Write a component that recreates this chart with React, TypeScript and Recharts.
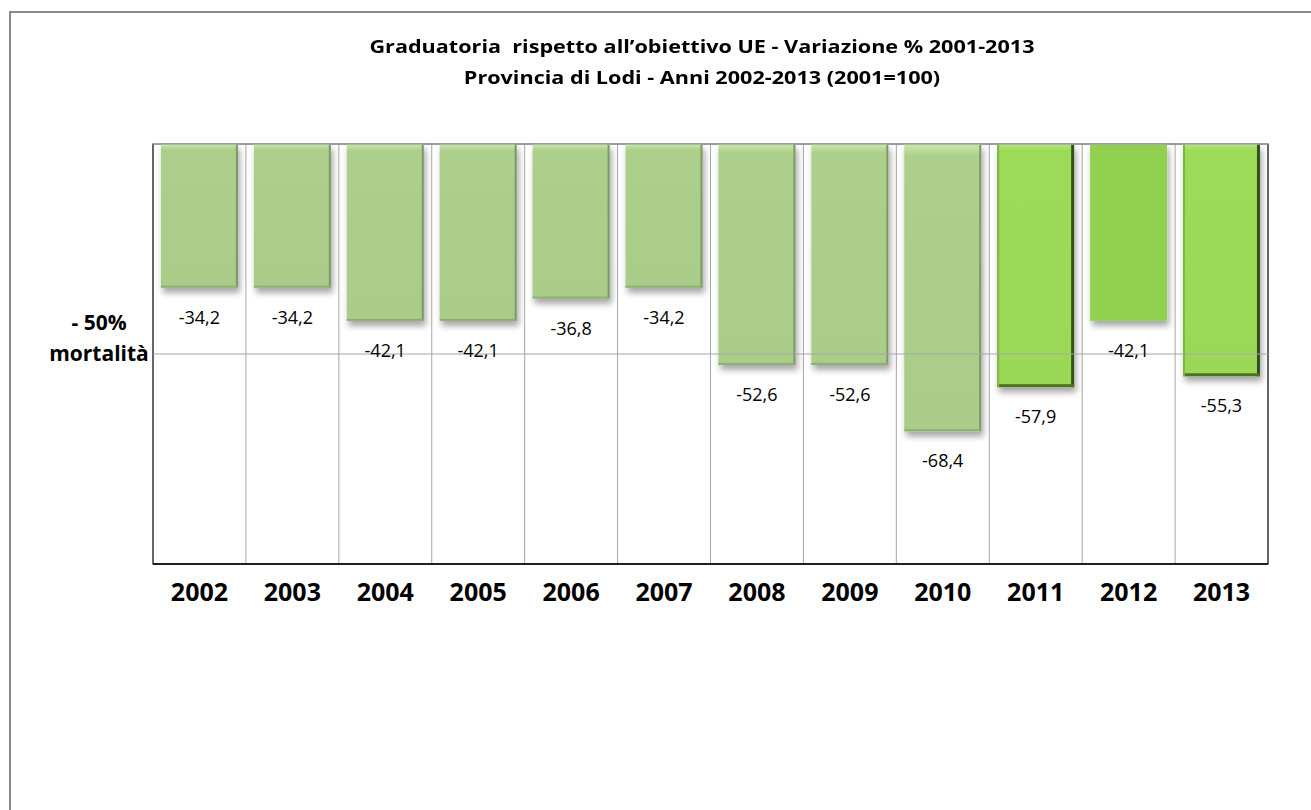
import { BarChart, Bar, XAxis, YAxis, CartesianGrid, ReferenceLine, ReferenceArea, LabelList } from 'recharts'

const years = ['2002', '2003', '2004', '2005', '2006', '2007', '2008', '2009', '2010', '2011', '2012', '2013']
const variazione = [-34.2, -34.2, -42.1, -42.1, -36.8, -34.2, -52.6, -52.6, -68.4, -57.9, -42.1, -55.3]
const titleLines = ['Graduatoria  rispetto all’obiettivo UE - Variazione % 2001-2013', 'Provincia di Lodi - Anni 2002-2013 (2001=100)']
const targetLine = -50
const targetLabel = ['- 50%', 'mortalità']

const data = years.map((year, i) => ({ year, value: variazione[i] }))

// bar look per year: default is the pale green with a soft top highlight
const BAR_LOOK: Record<string, 'pale' | 'outlined' | 'flat'> = {
  '2011': 'outlined',
  '2012': 'flat',
  '2013': 'outlined',
}

const FONT = '"Open Sans", sans-serif'

const W = 1311
const H = 810

const BarShape = (props: any) => {
  const { x, y, width, height, payload } = props
  const top = Math.min(y, y + height)
  const h = Math.abs(height)
  const look = BAR_LOOK[payload.year] || 'pale'

  if (look === 'flat') {
    return (
      <g filter="url(#barShadow)">
        <rect x={x} y={top} width={width} height={h} fill="#92d050" />
      </g>
    )
  }
  if (look === 'outlined') {
    return (
      <g filter="url(#barShadow)">
        <rect x={x} y={top} width={width} height={h} fill="url(#brightGrad)" />
        <rect x={x + width - 3} y={top} width={3} height={h} fill="#34501c" />
        <rect x={x} y={top + h - 3} width={width} height={3} fill="#4b7026" />
        <rect x={x} y={top} width={2} height={h} fill="#7fb548" />
      </g>
    )
  }
  return (
    <g filter="url(#barShadow)">
      <rect x={x} y={top} width={width} height={h} fill="url(#paleGrad)" />
      <rect x={x + width - 2} y={top} width={2} height={h} fill="#7d9868" />
      <rect x={x} y={top + h - 2} width={width} height={2} fill="#8fae76" />
    </g>
  )
}

const ValueLabel = (props: any) => {
  const { x, y, width, height, value } = props
  const bottom = Math.max(y, y + height)
  return (
    <text
      x={x + width / 2}
      y={bottom + 36}
      textAnchor="middle"
      fontFamily={FONT}
      fontSize={18}
      fill="#000"
    >
      {Number(value).toFixed(1).replace('.', ',')}
    </text>
  )
}

const YearTick = ({ x, y, payload }: any) => (
  <text x={x} y={y + 29} textAnchor="middle" fontFamily={FONT} fontWeight="bold" fontSize={25} fill="#000">
    {payload.value}
  </text>
)

const TargetLabel = ({ viewBox }: any) => {
  const y = viewBox.y
  return (
    <g>
      <text x={99} y={y - 24} textAnchor="middle" fontFamily={FONT} fontWeight="bold" fontSize={21} fill="#000">
        {targetLabel[0]}
      </text>
      <text x={99} y={y + 7} textAnchor="middle" fontFamily={FONT} fontWeight="bold" fontSize={21} fill="#000">
        {targetLabel[1]}
      </text>
    </g>
  )
}

export default function App() {
  const boundaries = ({ offset }: any) =>
    years.slice(1).map((_, i) => offset.left + ((i + 1) * offset.width) / years.length)

  return (
    <div style={{ position: 'absolute', left: 0, top: 0, width: W, height: H, background: '#fff', overflow: 'hidden' }}>
      <div
        style={{
          position: 'absolute',
          left: 9,
          top: 11,
          width: W + 20,
          height: H + 20,
          border: '2px solid #8a8a8a',
          boxSizing: 'border-box',
        }}
      />
      <div
        style={{
          position: 'absolute',
          left: 0,
          top: 31,
          width: 1404,
          textAlign: 'center',
          fontFamily: FONT,
          fontWeight: 'bold',
          fontSize: 18,
          lineHeight: '31px',
          color: '#000',
          whiteSpace: 'pre',
          transform: 'scaleX(1.2)',
          transformOrigin: '702px 0',
        }}
      >
        <div>{titleLines[0]}</div>
        <div>{titleLines[1]}</div>
      </div>
      <div style={{ position: 'absolute', left: 0, top: 0 }}>
        <BarChart
          width={W}
          height={H}
          data={data}
          margin={{ top: 144, right: 43, bottom: 206, left: 153 }}
          barCategoryGap="8.5%"
        >
          <defs>
            <linearGradient id="paleGrad" x1="0" y1="0" x2="0" y2="1" gradientUnits="objectBoundingBox">
              <stop offset="0" stopColor="#cbe8ac" />
              <stop offset="0.04" stopColor="#acd08b" />
              <stop offset="1" stopColor="#a9cd88" />
            </linearGradient>
            <linearGradient id="brightGrad" x1="0" y1="0" x2="0" y2="1">
              <stop offset="0" stopColor="#b4e67c" />
              <stop offset="0.03" stopColor="#9cda58" />
              <stop offset="1" stopColor="#9ad856" />
            </linearGradient>
            <filter id="barShadow" x="-20%" y="-10%" width="140%" height="130%">
              <feDropShadow dx="2" dy="5" stdDeviation="3" floodColor="#000" floodOpacity="0.35" />
            </filter>
          </defs>
          <CartesianGrid
            horizontal={false}
            vertical
            stroke="#a6a6a6"
            strokeWidth={1}
            verticalCoordinatesGenerator={boundaries}
          />
          <ReferenceArea y1={-100} y2={0} fill="none" stroke="#000" strokeWidth={1.2} ifOverflow="visible" />
          <ReferenceLine y={0} stroke="#a6a6a6" strokeWidth={1.5} />
          <ReferenceLine y={targetLine} stroke="#a6a6a6" strokeWidth={1} label={<TargetLabel />} />
          <XAxis
            dataKey="year"
            height={40}
            tickLine={false}
            axisLine={{ stroke: '#000', strokeWidth: 1.5 }}
            tick={<YearTick />}
            interval={0}
          />
          <YAxis domain={[-100, 0]} hide />
          <Bar dataKey="value" shape={<BarShape />} isAnimationActive={false}>
            <LabelList dataKey="value" content={<ValueLabel />} />
          </Bar>
        </BarChart>
      </div>
    </div>
  )
}
